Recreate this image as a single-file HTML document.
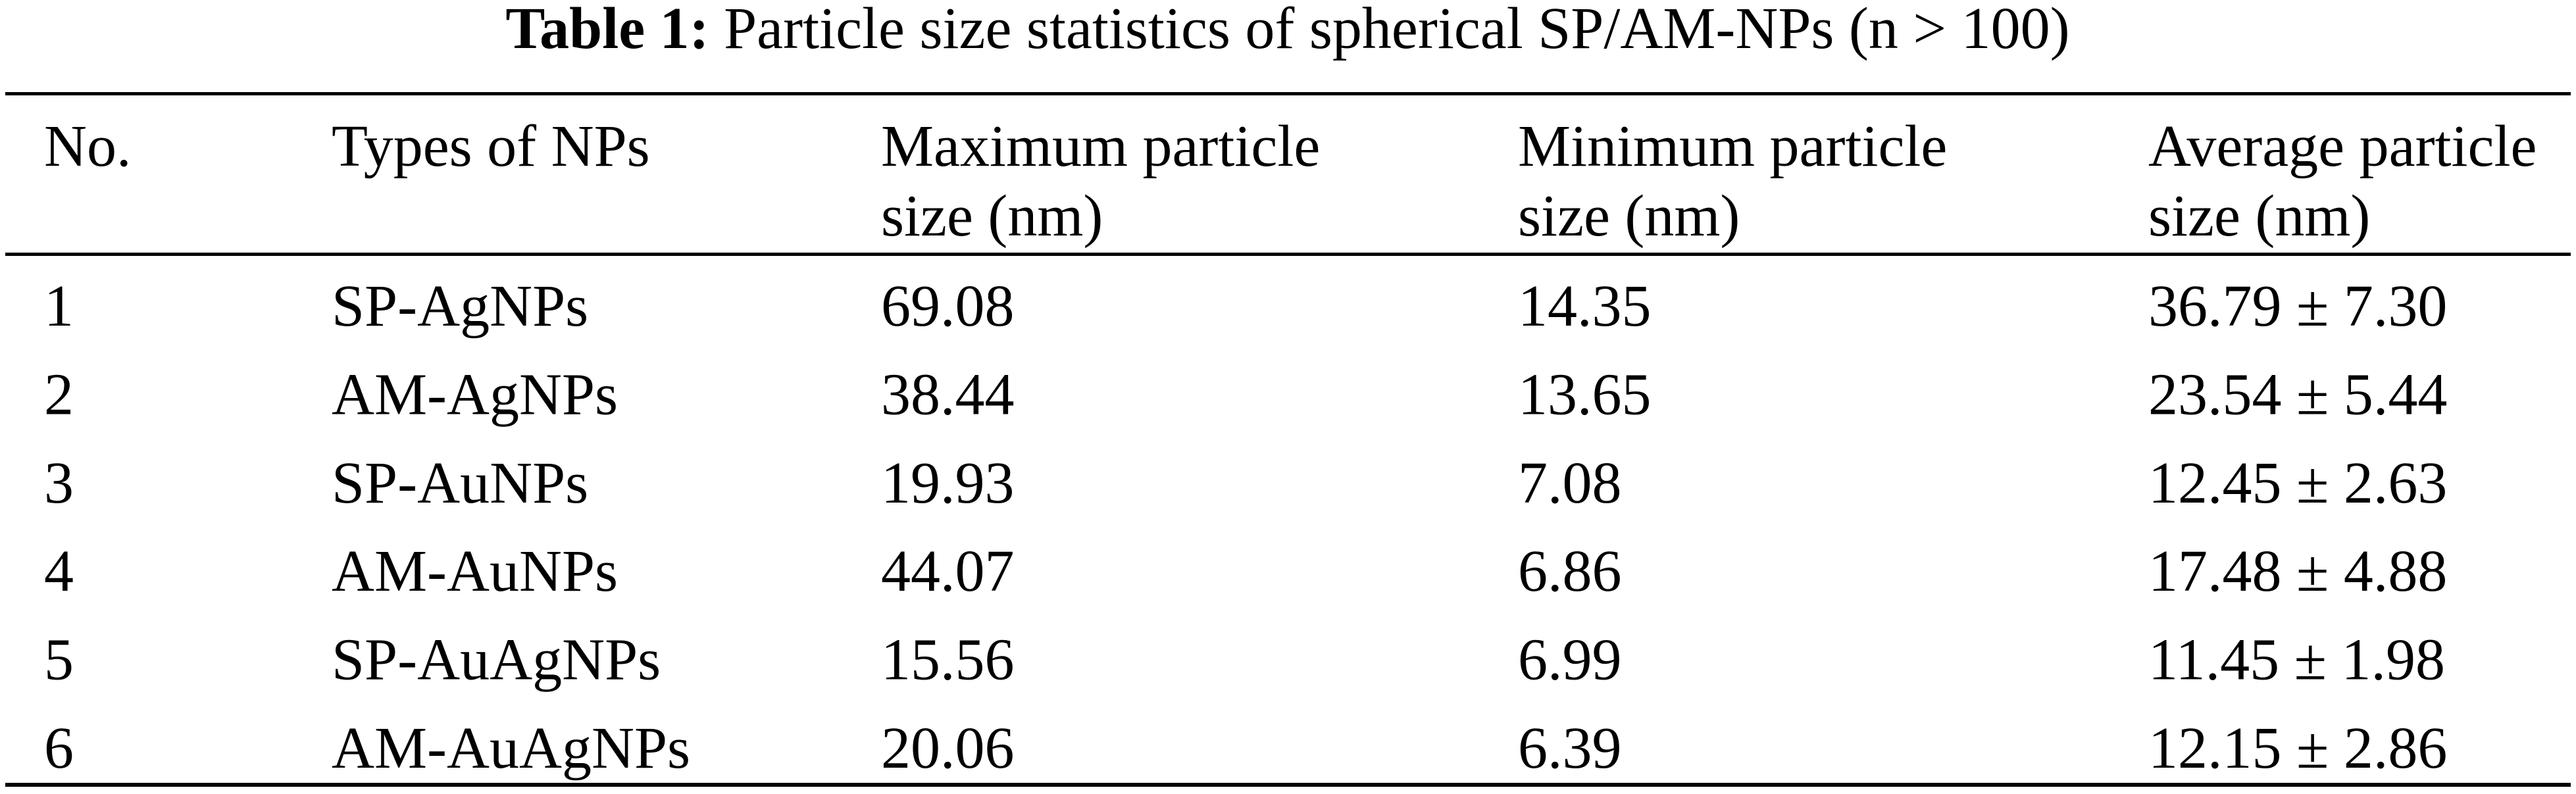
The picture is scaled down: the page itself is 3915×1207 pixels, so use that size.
<!DOCTYPE html>
<html><head><meta charset="utf-8"><style>
html,body{margin:0;padding:0;background:#fff;}
svg{display:block;}
text{font-family:"Liberation Serif","Times New Roman",serif;font-size:90px;fill:#000;}
</style></head><body>
<svg width="3915" height="1207" viewBox="0 0 3915 1207">
<text x="1957" y="73" text-anchor="middle"><tspan font-weight="bold">Table 1:</tspan>  Particle size statistics of spherical SP/AM-NPs (n &gt; 100)</text>
<rect x="8" y="140" width="3899" height="5" fill="#000"/>
<rect x="8" y="384" width="3899" height="5" fill="#000"/>
<rect x="8" y="1190" width="3899" height="6" fill="#000"/>
<g>
<text x="67" y="252">No.</text>
<text x="504" y="252">Types of NPs</text>
<text x="1339" y="252">Maximum particle</text>
<text x="1339" y="358">size (nm)</text>
<text x="2307" y="252">Minimum particle</text>
<text x="2307" y="358">size (nm)</text>
<text x="3265" y="252">Average particle</text>
<text x="3265" y="358">size (nm)</text>
</g>
<g id="rows"></g>
</svg>
<script>
const nos=["1","2","3","4","5","6"];
const types=["SP-AgNPs","AM-AgNPs","SP-AuNPs","AM-AuNPs","SP-AuAgNPs","AM-AuAgNPs"];
const maxes=["69.08","38.44","19.93","44.07","15.56","20.06"];
const mins=["14.35","13.65","7.08","6.86","6.99","6.39"];
const avgs=["36.79 ± 7.30","23.54 ± 5.44","12.45 ± 2.63","17.48 ± 4.88","11.45 ± 1.98","12.15 ± 2.86"];
const g=document.getElementById('rows');
const NS="http://www.w3.org/2000/svg";
const cols=[67,504,1339,2307,3265];
for(let i=0;i<nos.length;i++){
  const y=495+i*134.4;
  const vals=[nos[i],types[i],maxes[i],mins[i],avgs[i]];
  const names=['no','type','max','min','avg'];
  for(let c=0;c<5;c++){
    const t=document.createElementNS(NS,'text');
    t.setAttribute('x',cols[c]);
    t.setAttribute('y',y);
    
    
    t.textContent=vals[c];
    g.appendChild(t);
  }
}
</script>
</body></html>
